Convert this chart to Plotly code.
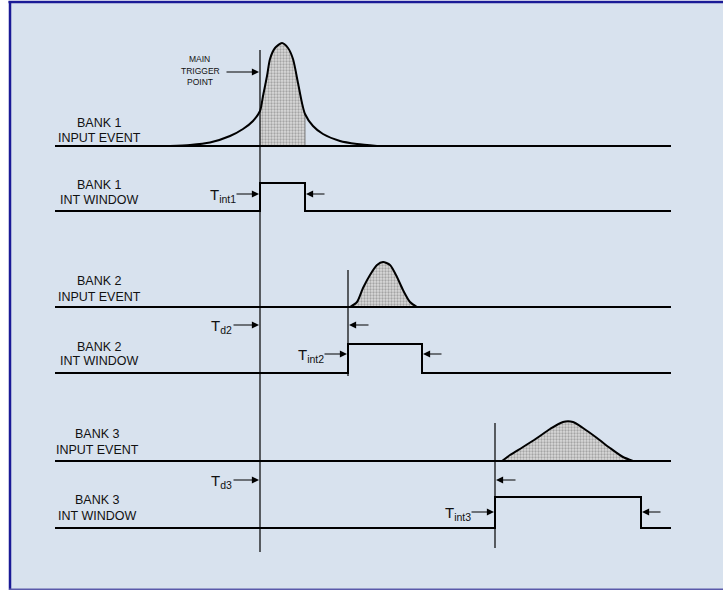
import plotly.graph_objects as go

# ---------------- data (time units on the horizontal axis) ----------------
bank_names = ["BANK 1", "BANK 2", "BANK 3"]
trigger_time = 260
bank_delay = [0, 88, 235]          # T_d (delay of each bank from main trigger)
int_width = [45, 74, 146]          # T_int (integration window width)
trace_start, trace_end = 55, 671
delay_labels = ["", "T<sub>d2</sub>", "T<sub>d3</sub>"]
int_labels = ["T<sub>int1</sub>", "T<sub>int2</sub>", "T<sub>int3</sub>"]

# pulse samples: time offset from bank start, pulse height
pulse1_t = [-90, -70, -50, -30, -17, -7, 0, 3, 7, 10, 15, 22, 28, 33, 38, 42, 45, 53, 63, 80, 97, 117]
pulse1_h = [0, 1, 3.5, 10, 17, 25, 35, 50, 70, 87, 98, 103, 98, 87, 63, 43, 32, 20, 12, 5, 2, 0]
pulse2_t = [2, 9, 15, 22, 29, 35, 42, 49, 55, 62, 69]
pulse2_h = [0, 5, 19, 32, 42, 45, 42, 30, 17, 5, 0]
pulse3_t = [7, 15, 28, 42, 55, 68, 78, 88, 102, 115, 128, 138]
pulse3_h = [0, 6, 14, 23, 32, 39, 39, 33, 23, 13, 4, 0]
pulses_t = [pulse1_t, pulse2_t, pulse3_t]
pulses_h = [pulse1_h, pulse2_h, pulse3_h]
shade_whole = [False, True, True]

# ---------------- layout rows (pixel y, top = 0) ----------------
W, H = 723, 590
input_base = [146, 307, 461]
win_base = [211, 373, 528]
win_high = [183, 344, 497]
bank_line_span = [(50, 552), (270, 376), (423, 548)]
input_label_y = [(123, 138), (281, 297), (434, 450)]
win_label_y = [(185, 200), (347, 361), (500, 516)]
label_x = [99, 99, 97]
delay_arrow_y = [None, 325, 480]
int_arrow_y = [194, 354, 512]

BLACK = "#000000"
FONT = "Liberation Sans, Arial, sans-serif"

fig = go.Figure()

# background & frame
shapes = [
    dict(type="rect", xref="x", yref="y", x0=9, x1=W + 5, y0=2, y1=H - 1,
         fillcolor="#D8E2EE", line=dict(width=0), layer="below"),
    dict(type="line", xref="x", yref="y", x0=8.5, x1=W + 5, y0=2, y1=2,
         line=dict(color="#1A1A96", width=2.5), layer="below"),
    dict(type="line", xref="x", yref="y", x0=10, x1=10, y0=1, y1=H + 2,
         line=dict(color="#1A1A96", width=2.5), layer="below"),
    dict(type="line", xref="x", yref="y", x0=9, x1=W + 5, y0=H - 0.7, y1=H - 0.7,
         line=dict(color="#5A5AAA", width=1.5), layer="below"),
]

annotations = []

def arrow(x_head, x_tail, y):
    annotations.append(dict(x=x_head, y=y, ax=x_tail, ay=y, xref="x", yref="y",
                            axref="x", ayref="y", text="", showarrow=True,
                            arrowhead=2, arrowsize=1.3, arrowwidth=1.1,
                            arrowcolor=BLACK, standoff=0, startstandoff=0))

def text(x, y, s, size=12.5, anchor="center"):
    annotations.append(dict(x=x, y=y, xref="x", yref="y", text=s, showarrow=False,
                            xanchor=anchor, yanchor="middle",
                            font=dict(family=FONT, size=size, color="#111111")))

def line(xs, ys, width=2, shape="linear", color=BLACK):
    fig.add_trace(go.Scatter(x=xs, y=ys, mode="lines",
                             line=dict(color=color, width=width, shape=shape, smoothing=0.7),
                             hoverinfo="skip", showlegend=False))

for i in range(3):
    start = trigger_time + bank_delay[i]
    end = start + int_width[i]
    base = input_base[i]
    pt = [start + t for t in pulses_t[i]]
    ph = [base - h for h in pulses_h[i]]

    # shaded area
    if shade_whole[i]:
        sx, sy = pt, ph
    else:
        sel = [k for k, t in enumerate(pulses_t[i]) if 0 <= t <= int_width[i]]
        sx = [pt[k] for k in sel]
        sy = [ph[k] for k in sel]
    fig.add_trace(go.Scatter(x=[sx[0], sx[-1]], y=[base, base], mode="lines",
                             line=dict(width=0), hoverinfo="skip", showlegend=False))
    fig.add_trace(go.Scatter(x=sx, y=sy, mode="lines", fill="tonexty",
                             line=dict(width=0, shape="spline", smoothing=0.7),
                             fillcolor="#B8B8B8",
                             fillpattern=dict(shape=".", fgcolor="#6E6E6E",
                                              bgcolor="#DADADA", size=3, solidity=0.45),
                             hoverinfo="skip", showlegend=False))
    if not shade_whole[i]:
        line([sx[0], sx[-1], sx[-1]], [base, base, sy[-1]], width=1, color="#808080")

    # input event waveform: straight baseline + smooth pulse
    line([trace_start, trace_end], [base, base])
    line(pt, ph, shape="spline")

    # integration window
    line([trace_start, start, start, end, end, trace_end],
         [win_base[i], win_base[i], win_high[i], win_high[i], win_base[i], win_base[i]])

    # bank start reference line
    y0, y1 = bank_line_span[i]
    line([start, start], [y0, y1], width=1.2)

    # labels
    text(label_x[i], input_label_y[i][0], bank_names[i])
    text(label_x[i], input_label_y[i][1], "INPUT EVENT")
    text(label_x[i], win_label_y[i][0], bank_names[i])
    text(label_x[i], win_label_y[i][1], "INT WINDOW")

    # integration window arrows
    ya = int_arrow_y[i]
    arrow(start - 1, start - 25, ya)
    arrow(end + 1, end + 21, ya)
    text(start - 22, ya + 1, int_labels[i], size=15, anchor="right")

    # delay arrows
    if delay_arrow_y[i] is not None:
        yd = delay_arrow_y[i]
        arrow(trigger_time - 1, trigger_time - 28, yd)
        arrow(start + 1, start + 22, yd)
        text(trigger_time - 26, yd + 1, delay_labels[i], size=15, anchor="right")

# main trigger point label
text(199, 59, "MAIN", size=8.5)
text(200, 71, "TRIGGER", size=8.5)
text(200, 82, "POINT", size=8.5)
arrow(trigger_time - 1, 225, 72)

fig.update_layout(
    width=W, height=H, margin=dict(l=0, r=0, t=0, b=0),
    paper_bgcolor="white", plot_bgcolor="white",
    xaxis=dict(range=[0, W], visible=False, fixedrange=True),
    yaxis=dict(range=[H, 0], visible=False, fixedrange=True),
    shapes=shapes, annotations=annotations, showlegend=False,
)

fig.write_html(
    "out.html",
    config={"displayModeBar": False},
    post_script="document.body.style.margin='0px';document.body.style.overflow='hidden';",
)
